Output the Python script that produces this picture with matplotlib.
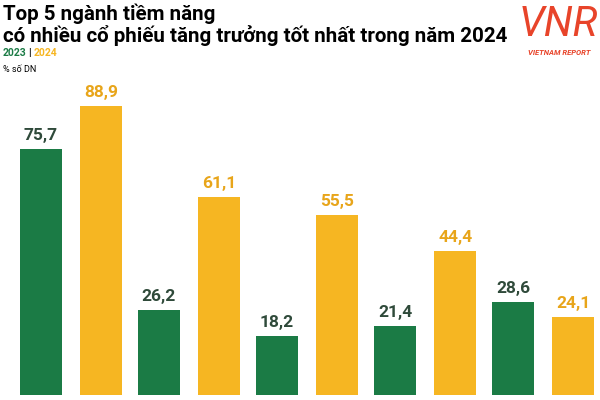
import matplotlib.pyplot as plt
import numpy as np

v2023 = [75.7, 26.2, 18.2, 21.4, 28.6]
v2024 = [88.9, 61.1, 55.5, 44.4, 24.1]

GREEN = "#1b7b45"
YELLOW = "#f6b622"
FONT = ["Roboto", "DejaVu Sans"]

fig = plt.figure(figsize=(6, 4), dpi=100)
ax = fig.add_axes([0, 5 / 400, 1, 315 / 400])
x = np.arange(len(v2023))
w = 0.356
ax.bar(x - 0.254, v2023, w, color=GREEN)
ax.bar(x + 0.254, v2024, w, color=YELLOW)
for xi, a, b in zip(x, v2023, v2024):
    ax.text(xi - 0.254, a + 1.8, f"{a:.1f}".replace(".", ","), ha="center", va="bottom",
            fontsize=12.5, fontweight="bold", color="#2f4a3a", family=FONT)
    ax.text(xi + 0.254, b + 1.8, f"{b:.1f}".replace(".", ","), ha="center", va="bottom",
            fontsize=12.5, fontweight="bold", color="#e8a51a", family=FONT)
ax.set_xlim(-0.60, 4.48)
ax.set_ylim(0, 97)
ax.axis("off")

fig.text(0.005, 0.99, "Top 5 ngành tiềm năng\ncó nhiều cổ phiếu tăng trưởng tốt nhất trong năm 2024",
         ha="left", va="top", fontsize=14.8, fontweight="bold", linespacing=1.0, family=FONT)
fig.text(0.005, 0.868, "2023", color=GREEN, fontsize=7.5, fontweight="bold", va="center", family=FONT)
fig.text(0.047, 0.868, "|", color="black", fontsize=7.5, fontweight="bold", va="center", family=FONT)
fig.text(0.056, 0.868, "2024", color=YELLOW, fontsize=7.5, fontweight="bold", va="center", family=FONT)
fig.text(0.005, 0.826, "% số DN", fontsize=6.5, va="center", family=FONT)

fig.text(0.93, 0.94, "VNR", color="#e8442a", fontsize=30, fontstyle="italic",
         ha="center", va="center", family=FONT)
fig.text(0.932, 0.868, "VIETNAM REPORT", color="#e8442a", fontsize=5.5, fontweight="bold",
         fontstyle="italic", ha="center", va="center", family=FONT)

fig.savefig("out.png", dpi=100)
